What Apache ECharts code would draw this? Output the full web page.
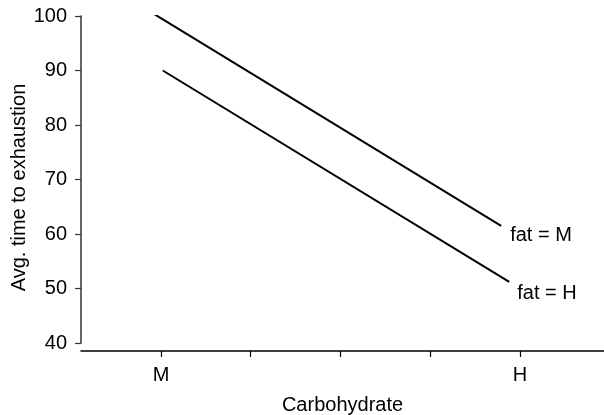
<!DOCTYPE html>
<html>
<head>
<meta charset="UTF-8">
<title></title>
<script src="https://cdn.jsdelivr.net/npm/echarts@6/dist/echarts.min.js"></script>
<style>
  html, body { margin: 0; padding: 0; background: #fff; }
  #main { width: 604px; height: 415px; }
</style>
</head>
<body>
<div id="main"></div>
<script>
// data (x: 1 = M ... 5 = H)
var fatM = [[0.93, 100.3], [4.79, 61.5]];
var fatH = [[1.02, 90.0], [4.88, 51.2]];
var xTicks = [1, 2, 3, 4, 5];
var xLabels = { 1: 'M', 5: 'H' };
var yTicks = [40, 50, 60, 70, 80, 90, 100];

var myChart = echarts.init(document.getElementById('main'));
var font = 'Liberation Sans, Arial, Helvetica, sans-serif';

var option = {
  animation: false,
  grid: { left: 81, right: 0, top: 16, bottom: 72, containLabel: false, outerBoundsMode: 'none' },
  xAxis: {
    type: 'value',
    min: 0.109,
    max: 5.936,
    offset: 8,
    name: 'Carbohydrate',
    nameLocation: 'middle',
    nameGap: 44,
    nameMoveOverlap: false,
    nameTextStyle: { color: '#000', fontSize: 20, fontFamily: font },
    splitLine: { show: false },
    axisLine: { show: true, lineStyle: { color: '#000', width: 1.5 } },
    axisTick: { show: true, customValues: xTicks, length: 6, lineStyle: { color: '#000', width: 1.2 } },
    axisLabel: {
      customValues: [1, 5],
      margin: 14,
      color: '#000', fontSize: 20, fontFamily: font,
      formatter: function (v) { return xLabels[v] || ''; }
    }
  },
  yAxis: {
    type: 'value',
    min: 40,
    max: 100,
    interval: 10,
    name: 'Avg. time to exhaustion',
    nameLocation: 'middle',
    nameGap: 52,
    nameMoveOverlap: false,
    nameTextStyle: { color: '#000', fontSize: 20, fontFamily: font, padding: [0, 16, 0, 0] },
    splitLine: { show: false },
    axisLine: { show: true, lineStyle: { color: '#333', width: 1.5 } },
    axisTick: { show: true, length: 6, lineStyle: { color: '#333', width: 1.2 } },
    axisLabel: {
      margin: 14,
      color: '#000', fontSize: 20, fontFamily: font,
      formatter: function (v) { return yTicks.indexOf(v) >= 0 ? String(v) : ''; }
    }
  },
  series: [
    {
      name: 'fat = M', type: 'line', data: fatM, symbol: 'none',
      lineStyle: { color: '#000', width: 2 },
      endLabel: { show: true, formatter: 'fat = M', offset: [1, 10], color: '#000', fontSize: 20, fontFamily: font }
    },
    {
      name: 'fat = H', type: 'line', data: fatH, symbol: 'none',
      lineStyle: { color: '#000', width: 2 },
      endLabel: { show: true, formatter: 'fat = H', offset: [0, 12], color: '#000', fontSize: 20, fontFamily: font }
    }
  ]
};

myChart.setOption(option);
</script>
</body>
</html>
